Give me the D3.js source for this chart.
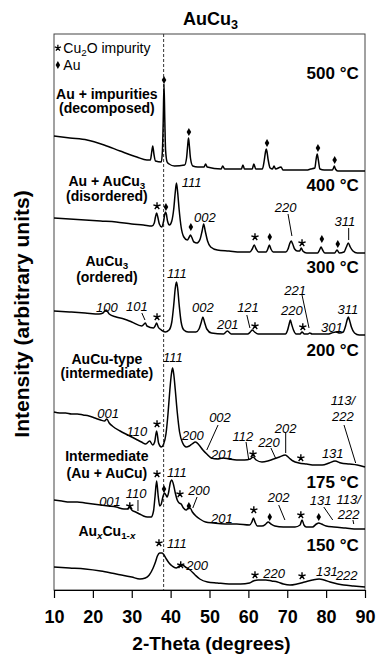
<!DOCTYPE html>
<html>
<head>
<meta charset="utf-8">
<script src="https://cdn.jsdelivr.net/npm/d3@7"></script>
<style>
    body { margin: 0; background: #fff; }
    svg text { font-family: "Liberation Sans", Arial, Helvetica, sans-serif; fill: #000; }
</style>
</head>
<body>
<div id="chart-div"></div>
<script>
// XRD traces, [2-theta, intensity (arbitrary, stacked)]
const trace500 = [[10,454],[14.1,452],[18.5,450],[22.9,445],[27,439],[31.3,433],[33.9,430],[34.8,430],[35.1,437],[35.4,444],[35.7,436],[36.1,429],[37.6,428],[37.9,440],[38.1,470],[38.3,506],[38.5,470],[38.7,440],[39.1,428],[39.6,426],[41,424],[43.6,425],[44.1,432],[44.4,445],[44.6,452],[44.8,445],[45.1,432],[45.7,424],[47,423],[48.6,423],[49.0,426],[49.4,423],[53,421],[53.4,424],[53.9,421],[58.2,421],[58.6,425],[59.0,421],[61.0,421],[61.4,426],[61.9,421],[63.6,421],[64.1,430],[64.4,438],[64.6,441],[64.8,438],[65.1,430],[65.6,422],[66.2,421],[66.6,424],[67.0,421],[68.4,423],[68.9,420],[75,420],[76,421],[77.1,422],[77.4,430],[77.7,436],[78.0,430],[78.4,421],[79.5,420],[81.6,420],[81.9,422],[82.1,424],[82.4,421],[83,419],[90,419]];
const trace400 = [[10,372],[14,371],[18,370],[22,369],[26,368],[30,366],[33,365],[35.2,364],[35.8,367],[36.1,373],[36.4,377],[36.7,373],[37.1,366],[37.7,363],[38.2,369],[38.5,376],[38.7,378],[38.9,376],[39.2,369],[39.7,365],[40.3,369],[40.8,381],[41.2,398],[41.5,407],[41.8,398],[42.2,380],[42.7,363],[43.4,353],[44.3,350],[44.8,353],[45.1,355],[45.4,353],[46.0,348],[46.8,347],[47.6,351],[48.1,359],[48.5,366],[48.9,359],[49.5,349],[50.3,343],[52,340],[55,339],[58,338],[60.4,338],[61.0,341],[61.5,345],[62.0,341],[62.6,338],[64.6,338],[65.0,341],[65.4,345],[65.8,341],[66.4,338],[69.6,338],[70.2,341],[70.6,346],[71.0,349],[71.4,346],[71.9,341],[72.6,339],[73.2,339],[73.6,342],[74.0,339],[75,337],[77.8,337],[78.3,340],[78.7,343],[79.1,340],[79.7,337],[82.2,337],[82.8,340],[83.4,337],[84.6,338],[85.2,343],[85.7,347],[86.2,343],[86.9,339],[88,337],[90,337]];
const trace300 = [[10,279],[14,278],[18,277],[21.6,276],[22.6,277],[23.4,280],[24.2,276],[26,273],[28,271],[30,268],[32.6,264],[33.2,266],[33.5,267],[33.9,264],[35.6,262],[36.0,264],[36.4,267],[36.8,263],[37.6,260],[38.6,258],[39.6,260],[40.3,268],[40.8,285],[41.2,302],[41.5,308],[41.8,302],[42.2,285],[42.7,268],[43.4,260],[44.5,258],[46.5,258],[47.3,261],[47.9,268],[48.3,273],[48.7,268],[49.3,261],[50.5,257],[53.6,256],[54.6,259],[55.6,256],[59.8,256],[60.5,258],[61.0,260],[61.6,258],[62.5,256],[69.5,256],[70.1,260],[70.5,266],[70.8,270],[71.1,266],[71.6,260],[72.3,256],[73.3,256],[73.8,258],[74.4,256],[75.3,256],[75.8,257],[76.4,256],[80.5,256],[81.4,257],[82.5,258],[83.5,257],[84.4,258],[85.0,264],[85.4,270],[85.7,273],[86.0,270],[86.5,263],[87.3,257],[88.5,255],[90,255]];
const trace200 = [[10,178],[11.5,177],[13,177],[14.5,176],[16,176],[17.5,175],[19,174],[20.5,172],[22,170],[23,169],[23.6,171],[24.2,167],[25,164],[27,159],[29,155],[31,151],[32.5,148],[33.6,146],[34.6,149],[35.4,145],[35.9,148],[36.4,159],[36.9,147],[37.6,143],[38.2,146],[38.8,156],[39.3,175],[39.8,200],[40.2,216],[40.5,222],[40.8,216],[41.2,200],[41.7,178],[42.3,158],[43.1,147],[44.0,143],[44.8,144],[45.5,146],[46.4,148],[47.3,145],[48.3,140],[49.3,136],[50.5,132],[52,131],[53.5,132],[55,131],[57,130],[59,130],[60.5,131],[61.2,133],[62,130],[63.5,128],[65,129],[66.5,131],[68,133],[69.5,135],[70.5,132],[71.5,129],[73,127],[75,126],[77,125],[79,125],[80.8,127],[82.3,129],[83.8,127],[86,126],[88,125],[90,123]];
const trace175 = [[10,90],[12,89],[14,88],[16,88],[18,87],[20,86],[22,85],[24,84],[26,83],[28,81],[29.0,81],[29.5,83],[30.0,80],[31,78],[32,76],[33,74],[34,73],[35.0,73],[35.6,79],[36.0,94],[36.4,109],[36.8,94],[37.2,84],[37.6,86],[38.0,93],[38.4,97],[38.8,95],[39.1,93],[39.5,98],[39.9,107],[40.3,110],[40.7,106],[41.2,97],[41.7,90],[42.2,87],[42.7,86],[43.3,82],[44.0,80],[44.6,82],[45.0,82],[45.6,78],[46.5,74],[47.5,71],[49,68],[51,67],[54,66],[57,66],[60.3,65],[60.9,68],[61.3,72],[61.7,68],[62.3,64],[63.5,64],[64.5,66],[65.1,68],[65.8,66],[66.8,64],[69,63],[72,63],[73.3,65],[73.8,70],[74.3,65],[74.9,63],[76.5,63],[77.5,66],[78.1,67],[78.8,66],[80,64],[82,63],[85,62],[88,61],[90,61]];
const trace150 = [[10,23],[14,22],[18,21],[22,19],[26,16],[30,13],[32.1,11],[33.5,12],[34.5,15],[35.5,22],[36.1,28],[36.6,34],[37.2,37],[37.8,37],[38.3,35],[38.9,31],[39.6,27],[40.4,24],[41.4,22],[42.3,24],[43.0,25],[43.8,23],[45,20],[46.3,15],[47.5,11],[49.5,8],[52,7],[55,6],[58,6],[60.3,7],[61.3,9],[62.5,10],[64.5,10],[66,9],[67.5,8],[69,6],[70.7,5],[72.5,6],[74.5,8],[76.5,10],[78.2,11],[79.5,10],[81,8],[83,6],[84.5,5],[87,4],[90,3]];

const xTicks = [10, 20, 30, 40, 50, 60, 70, 80, 90];
const refPeak = 38.2;   // dashed line, Au(111)

// temperature labels: [text, intensity]
const temperatures = [["500 °C", 517], ["400 °C", 405], ["300 °C", 323], ["200 °C", 240], ["175 °C", 108], ["150 °C", 45]];
// sample description lines: [text, intensity]
const sampleLines = [
    ["Au + impurities", 496], ["(decomposed)", 482],
    ["Au + AuCu_{3}", 409], ["(disordered)", 394],
    ["AuCu_{3}", 329], ["(ordered)", 313],
    ["AuCu-type", 231], ["(intermediate)", 217],
    ["Intermediate", 134], ["(Au + AuCu)", 117],
    ["Au_{x}Cu_{1-x}", 59]
];

// peak markers [2-theta, intensity]
const starMarks = [
    [36.5,384],[61.7,353],[73.8,347],
    [36.5,273],[61.7,264],[74.0,263],
    [36.5,166],[61.2,136],[73.5,132],
    [29.5,84],[36.5,116],[42.4,96],[61.4,80],[73.5,75],
    [37.0,47],[42.6,25],[61.7,15],[73.8,14]
];
const diamondMarks = [
    [38.3,510],[44.7,458],[64.8,447],[77.9,442],[82.2,430],
    [38.8,383],[45.2,363],[65.5,353],[78.9,351],[83.0,346],
    [38.3,101],[44.7,84],[65.5,73],[78.1,73]
];

// hkl labels [text, 2-theta, intensity]
const hklLabels = [
    ["111",45.4,408],["002",48.8,373],["220",69.6,383],["311",84.8,369],
    ["100",23.6,283],["101",31.3,284],["111",41.6,317],["002",48.3,283],["201",54.7,266],["121",59.9,283],["221",72.0,300],["220",71.2,280],["301",81.5,263],["311",85.6,281],
    ["111",40.6,233],["001",23.9,177],["110",31.3,159],["002",52.7,173],["200",45.7,155],["201",53.2,136],["112",58.6,154],["220",65.3,148],["202",69.6,162],["131",81.7,137],["113/",84.3,190],["222",84.3,174],
    ["111",41.6,118],["001",24.4,89],["110",31.1,97],["200",47.3,100],["201",53.2,72],["202",67.8,93],["131",78.6,90],["113/",85.8,91],["222",85.8,76],
    ["111",41.6,47],["200",46.8,25],["220",66.6,17],["131",80.2,19],["222",85.3,15]
];
// leader lines [x1, y1, x2, y2] in data units
const leaders = [
    [70.2,376,71.2,354],[85.8,362,85.8,350],
    [32.6,277,33.4,270],[59.6,275,60.4,262],[73.8,295,75.6,262],
    [52.2,165,49.3,140],[59.4,148,60.1,130],[65.8,142,67.1,131],[69.6,158,69.6,137],[84.6,165,87.6,127],
    [31.6,90,31.6,79],[46.8,93,45.7,82],[67.8,85,69.4,70],[79.4,83,81.7,70],[86.9,70,87.1,66]
];

const traces = [trace500, trace400, trace300, trace200, trace175, trace150];

const MARGIN = { top: 34, right: 12, bottom: 66, left: 54 };
const WIDTH = 377, HEIGHT = 656;
const CHART_WIDTH = WIDTH - MARGIN.left - MARGIN.right;
const CHART_HEIGHT = HEIGHT - MARGIN.top - MARGIN.bottom;

setup();

// writes "AuCu_{3}" style text as tspans, x inside a subscript goes italic
function richText(sel, str, size) {
    let shift = size * 0.22;
    let down = false;
    str.split(/(_\{[^}]*\})/).filter(p => p !== "").forEach(p => {
        if (p.startsWith("_{")) {
            p.slice(2, -1).split(/(x)/).filter(q => q !== "").forEach((q, i) => {
                sel.append("tspan")
                    .attr("dy", i === 0 ? shift : null)
                    .style("font-size", (size * 0.7) + "px")
                    .style("font-style", q === "x" ? "italic" : null)
                    .text(q);
            });
            down = true;
        } else {
            sel.append("tspan")
                .attr("dy", down ? -shift : null)
                .text(p);
            down = false;
        }
    });
}

// five-spoke asterisk, like the Cu2O marker in the figure
function asteriskPath(r) {
    let p = d3.path();
    for (let i = 0; i < 5; i++) {
        let a = -Math.PI / 2 + i * 2 * Math.PI / 5;
        p.moveTo(0, 0);
        p.lineTo(r * Math.cos(a), r * Math.sin(a));
    }
    return p.toString();
}

function setup() {
    let svg = d3.select("#chart-div")
        .append("svg")
        .attr("width", WIDTH)
        .attr("height", HEIGHT)
        .append("g")
        .attr("transform", "translate(" + MARGIN.left + "," + MARGIN.top + ")");

    let xScale = d3.scaleLinear()
        .domain([10, 90])
        .range([0, CHART_WIDTH]);

    let yScale = d3.scaleLinear()
        .domain([0, CHART_HEIGHT])
        .range([CHART_HEIGHT, 0]);

    // frame
    svg.append("rect")
        .attr("width", CHART_WIDTH)
        .attr("height", CHART_HEIGHT)
        .attr("fill", "none")
        .attr("stroke", "#444")
        .attr("stroke-width", 1);

    // x axis
    let xAxis = svg.append("g")
        .attr("transform", "translate(0," + CHART_HEIGHT + ")")
        .call(d3.axisBottom(xScale).tickValues(xTicks).tickSize(8).tickPadding(12).tickFormat(d3.format("d")));
    xAxis.select(".domain").attr("stroke", "#000");
    xAxis.selectAll(".tick line").attr("stroke", "#000").attr("stroke-width", 1.2);
    xAxis.selectAll("text")
        .style("font-size", "18px")
        .style("font-weight", "bold")
        .style("font-family", "Liberation Sans, Arial, sans-serif");

    // dashed reference line
    svg.append("line")
        .attr("x1", xScale(refPeak))
        .attr("x2", xScale(refPeak))
        .attr("y1", 0)
        .attr("y2", CHART_HEIGHT)
        .attr("stroke", "#333")
        .attr("stroke-width", 1)
        .attr("stroke-dasharray", "3,2");

    // traces
    let line = d3.line()
        .x(d => xScale(d[0]))
        .y(d => yScale(d[1]))
        .curve(d3.curveMonotoneX);

    svg.append("g")
        .selectAll("path")
        .data(traces)
        .enter()
        .append("path")
        .attr("d", line)
        .attr("fill", "none")
        .attr("stroke", "#000")
        .attr("stroke-width", 1.5)
        .attr("stroke-linejoin", "round");

    // leader lines
    svg.append("g")
        .selectAll("line")
        .data(leaders)
        .enter()
        .append("line")
        .attr("x1", d => xScale(d[0]))
        .attr("y1", d => yScale(d[1]))
        .attr("x2", d => xScale(d[2]))
        .attr("y2", d => yScale(d[3]))
        .attr("stroke", "#000")
        .attr("stroke-width", 1);

    // Cu2O stars
    let star = asteriskPath(3.8);
    svg.append("g")
        .selectAll("path")
        .data(starMarks)
        .enter()
        .append("path")
        .attr("transform", d => "translate(" + xScale(d[0]) + "," + yScale(d[1]) + ")")
        .attr("d", star)
        .attr("stroke", "#000")
        .attr("stroke-width", 1.4)
        .attr("fill", "none");

    // Au diamonds
    svg.append("g")
        .selectAll("path")
        .data(diamondMarks)
        .enter()
        .append("path")
        .attr("transform", d => "translate(" + xScale(d[0]) + "," + yScale(d[1]) + ")")
        .attr("d", d3.symbol().type(d3.symbolDiamond).size(18))
        .attr("fill", "#000");

    // hkl labels
    svg.append("g")
        .selectAll("text")
        .data(hklLabels)
        .enter()
        .append("text")
        .attr("x", d => xScale(d[1]))
        .attr("y", d => yScale(d[2]))
        .attr("dy", "0.35em")
        .attr("text-anchor", "middle")
        .style("font-size", "13px")
        .style("font-style", "italic")
        .text(d => d[0]);

    // temperatures
    svg.append("g")
        .selectAll("text")
        .data(temperatures)
        .enter()
        .append("text")
        .attr("x", xScale(88.4))
        .attr("y", d => yScale(d[1]))
        .attr("dy", "0.35em")
        .attr("text-anchor", "end")
        .style("font-size", "17px")
        .style("font-weight", "bold")
        .text(d => d[0]);

    // sample descriptions
    sampleLines.forEach(d => {
        let t = svg.append("text")
            .attr("x", xScale(23.6))
            .attr("y", yScale(d[1]))
            .attr("dy", "0.35em")
            .attr("text-anchor", "middle")
            .style("font-size", "14px")
            .style("font-weight", "bold");
        richText(t, d[0], 14);
    });

    // legend
    svg.append("path")
        .attr("transform", "translate(" + xScale(11.0) + "," + yScale(542) + ")")
        .attr("d", asteriskPath(3.3))
        .attr("stroke", "#000")
        .attr("stroke-width", 1.3)
        .attr("fill", "none");
    svg.append("path")
        .attr("transform", "translate(" + xScale(11.0) + "," + yScale(525) + ")")
        .attr("d", d3.symbol().type(d3.symbolDiamond).size(18))
        .attr("fill", "#000");
    let legendText = svg.append("text")
        .attr("x", xScale(12.4))
        .attr("y", yScale(542))
        .attr("dy", "0.35em")
        .style("font-size", "14px");
    richText(legendText, "Cu_{2}O impurity", 14);
    svg.append("text")
        .attr("x", xScale(12.4))
        .attr("y", yScale(525))
        .attr("dy", "0.35em")
        .style("font-size", "14px")
        .text("Au");

    // title
    let title = svg.append("text")
        .attr("x", CHART_WIDTH / 2 + 1)
        .attr("y", -9)
        .attr("text-anchor", "middle")
        .style("font-size", "18px")
        .style("font-weight", "bold");
    richText(title, "AuCu_{3}", 18);

    // axis titles
    svg.append("text")
        .attr("x", CHART_WIDTH / 2 + 2)
        .attr("y", CHART_HEIGHT + 60)
        .attr("text-anchor", "middle")
        .style("font-size", "19px")
        .style("font-weight", "bold")
        .text("2-Theta (degrees)");

    svg.append("text")
        .attr("transform", "translate(-25," + (CHART_HEIGHT / 2 + 2) + ")rotate(-90)")
        .attr("text-anchor", "middle")
        .style("font-size", "21px")
        .style("font-weight", "bold")
        .text("Intensity (arbitrary units)");
}
</script>
</body>
</html>
